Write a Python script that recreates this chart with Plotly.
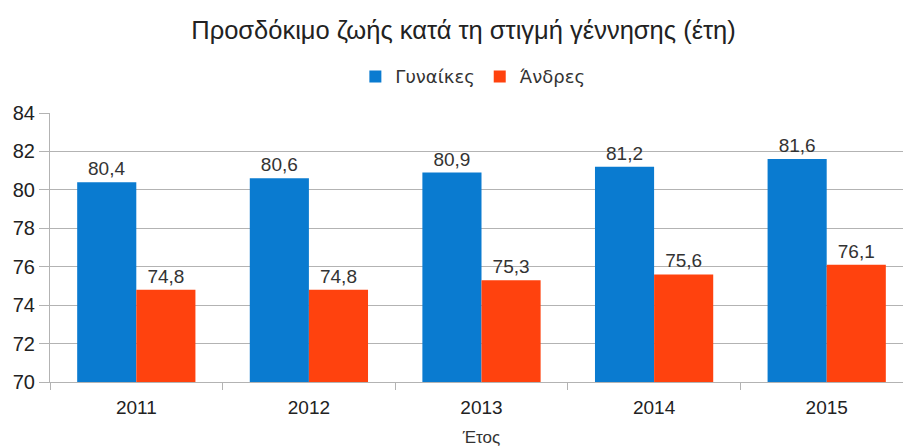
import plotly.graph_objects as go

years = ["2011", "2012", "2013", "2014", "2015"]
women = [80.4, 80.6, 80.9, 81.2, 81.6]
men = [74.8, 74.8, 75.3, 75.6, 76.1]
women_labels = ["80,4", "80,6", "80,9", "81,2", "81,6"]
men_labels = ["74,8", "74,8", "75,3", "75,6", "76,1"]

font_family = "Liberation Sans, Arial, sans-serif"

fig = go.Figure()
fig.add_trace(go.Bar(name="Γυναίκες", x=years, y=women, text=women_labels,
                     textposition="outside", marker_color="#0a7bd0",
                     marker_line_width=0, cliponaxis=False,
                     textfont=dict(size=19, color="#333333")))
fig.add_trace(go.Bar(name="Άνδρες", x=years, y=men, text=men_labels,
                     textposition="outside", marker_color="#ff420e",
                     marker_line_width=0, cliponaxis=False,
                     textfont=dict(size=19, color="#333333")))

fig.update_layout(
    width=911, height=448,
    margin=dict(l=42, r=6, t=105, b=74, autoexpand=False),
    paper_bgcolor="white", plot_bgcolor="white",
    font=dict(family=font_family, color="#333333"),
    title=dict(text="Προσδόκιμο ζωής κατά τη στιγμή γέννησης (έτη)",
               x=0.5, xanchor="center", y=0.951, yanchor="middle",
               font=dict(size=25.5, color="#222222")),
    legend=dict(orientation="h", x=0.49, xanchor="center", y=1.135, yanchor="middle",
                font=dict(size=18, family="DejaVu Sans"), itemwidth=30,
                traceorder="normal", tracegroupgap=0),
    barmode="group", bargap=0.315, bargroupgap=0,
    showlegend=True,
)
fig.update_xaxes(
    type="category", showline=True, linecolor="#b3b3b3", linewidth=1,
    ticks="outside", tickson="boundaries", ticklen=7, tickcolor="#b3b3b3",
    tickfont=dict(size=19, color="#222222"), ticklabelstandoff=8,
    title=dict(text="Έτος", font=dict(size=17, color="#333333"), standoff=14),
    showgrid=False,
)
fig.update_yaxes(
    range=[70, 84], dtick=2, showline=True, linecolor="#b3b3b3", linewidth=1,
    ticks="outside", ticklen=10, tickcolor="#b3b3b3",
    showgrid=True, gridcolor="#b3b3b3", gridwidth=1,
    tickfont=dict(size=20, color="#222222"), zeroline=False,
)

fig.write_html("out.html", config={"displayModeBar": False})
